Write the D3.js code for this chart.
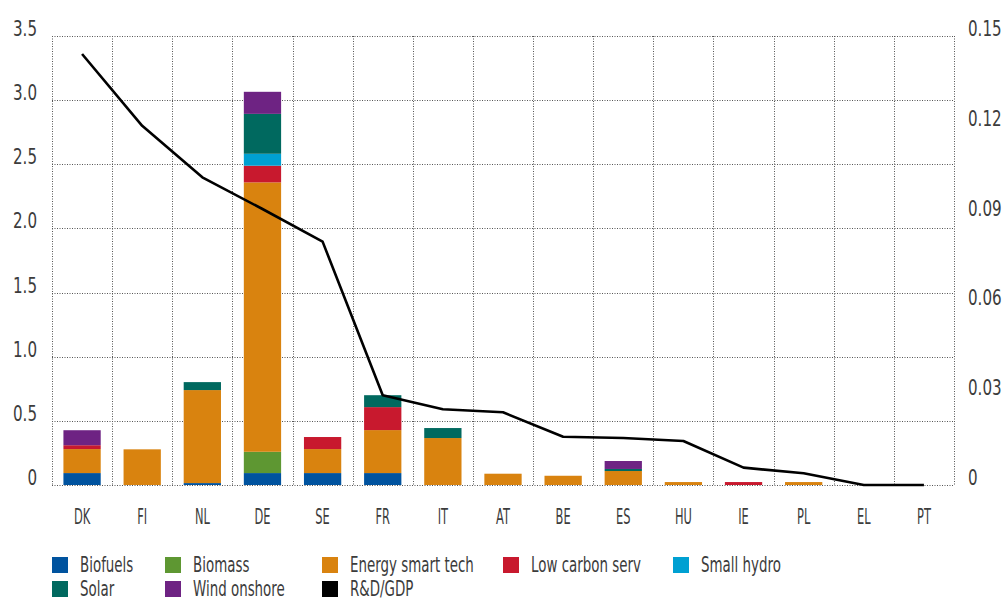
<!DOCTYPE html>
<html>
<head>
<meta charset="utf-8">
<script src="https://cdn.jsdelivr.net/npm/d3@7"></script>
<style>
  body { margin: 0; background: #fff; }
  text { font-family: "Liberation Sans Narrow", "DejaVu Sans Condensed", sans-serif; fill: #3c3c3c; }
</style>
</head>
<body>
<script>
// Chart data
const countries = ["DK", "FI", "NL", "DE", "SE", "FR", "IT", "AT", "BE", "ES", "HU", "IE", "PL", "EL", "PT"];
const biofuels    = [0.093, 0, 0.015, 0.093, 0.093, 0.093, 0, 0, 0, 0, 0, 0, 0, 0, 0];
const biomass     = [0, 0, 0, 0.166, 0, 0, 0, 0, 0, 0, 0, 0, 0, 0, 0];
const energySmart = [0.187, 0.278, 0.725, 2.10, 0.187, 0.335, 0.366, 0.088, 0.072, 0.109, 0.023, 0, 0.023, 0, 0];
const lowCarbon   = [0.03, 0, 0, 0.13, 0.094, 0.179, 0, 0, 0, 0, 0, 0.023, 0, 0, 0];
const smallHydro  = [0, 0, 0, 0.093, 0, 0, 0, 0, 0, 0, 0, 0, 0, 0, 0];
const solar       = [0, 0, 0.062, 0.311, 0, 0.093, 0.078, 0, 0, 0.016, 0, 0, 0, 0, 0];
const windOnshore = [0.117, 0, 0, 0.172, 0, 0, 0, 0, 0, 0.062, 0, 0, 0, 0, 0];
const rdGdp       = [0.144, 0.120, 0.1028, 0.0922, 0.0813, 0.030, 0.0253, 0.0243, 0.0161, 0.0157, 0.0147, 0.0058, 0.0039, 0, 0];

const seriesNames = ["Biofuels", "Biomass", "Energy smart tech", "Low carbon serv", "Small hydro", "Solar", "Wind onshore"];
const seriesValues = [biofuels, biomass, energySmart, lowCarbon, smallHydro, solar, windOnshore];
const seriesColors = ["#00539f", "#5e9732", "#d9830f", "#c8192e", "#00a0d2", "#00695f", "#6e2383"];
const leftTicks = [0, 0.5, 1.0, 1.5, 2.0, 2.5, 3.0, 3.5];
const rightTicks = [0, 0.03, 0.06, 0.09, 0.12, 0.15];

// Dimensions
const width = 1002, height = 602;
const plot = { left: 52, right: 954, top: 36, bottom: 485 };

const svg = d3.select("body").append("svg")
    .attr("width", width)
    .attr("height", height);

// Build table for stacking
const table = countries.map(function(c, i) {
    const row = { country: c };
    seriesNames.forEach(function(s, j) { row[s] = seriesValues[j][i]; });
    return row;
});

const x = d3.scaleBand()
    .domain(countries)
    .range([plot.left, plot.right])
    .paddingInner(0.38)
    .paddingOuter(0.19);

const y = d3.scaleLinear().domain([0, 3.5]).range([plot.bottom, plot.top]);
const y2 = d3.scaleLinear().domain([0, 0.15]).range([plot.bottom, plot.top]);

const step = (plot.right - plot.left) / countries.length;

// Gridlines (dotted)
const grid = svg.append("g").attr("stroke", "#555").attr("stroke-width", 1).attr("stroke-dasharray", "1,1.5");
grid.selectAll("line.h")
    .data(leftTicks)
    .enter().append("line")
    .attr("x1", plot.left).attr("x2", plot.right)
    .attr("y1", d => Math.round(y(d)) + 0.5).attr("y2", d => Math.round(y(d)) + 0.5);
grid.selectAll("line.v")
    .data(d3.range(countries.length + 1))
    .enter().append("line")
    .attr("x1", d => Math.round(plot.left + d * step) + 0.5)
    .attr("x2", d => Math.round(plot.left + d * step) + 0.5)
    .attr("y1", plot.top).attr("y2", plot.bottom);

// helper for squeezed text (imitates the condensed face of the original)
function label(g, txt, tx, ty, anchor, size, sx) {
    return g.append("text")
        .attr("transform", "translate(" + tx + "," + ty + ") scale(" + sx + ",1)")
        .attr("text-anchor", anchor)
        .style("font-size", size + "px")
        .text(txt);
}

// Stacked bars
const stacked = d3.stack().keys(seriesNames)(table);
svg.append("g").selectAll("g")
    .data(stacked)
    .enter().append("g")
    .attr("fill", (d, i) => seriesColors[i])
    .selectAll("rect")
    .data(d => d)
    .enter().append("rect")
    .attr("x", d => x(d.data.country))
    .attr("width", x.bandwidth())
    .attr("y", d => y(d[1]))
    .attr("height", d => y(d[0]) - y(d[1]));

// R&D/GDP line
const line = d3.line()
    .x((d, i) => x(countries[i]) + x.bandwidth() / 2)
    .y(d => y2(d));
svg.append("path")
    .datum(rdGdp)
    .attr("d", line)
    .attr("fill", "none")
    .attr("stroke", "#000")
    .attr("stroke-width", 2.6)
    .attr("stroke-linejoin", "round");

// Axes labels
const axes = svg.append("g");
leftTicks.forEach(function(t) {
    label(axes, t === 0 ? "0" : d3.format(".1f")(t), 37, y(t), "end", 21, 0.8);
});
rightTicks.forEach(function(t) {
    label(axes, t === 0 ? "0" : d3.format(".2f")(t), 968, y2(t), "start", 21, 0.8);
});
countries.forEach(function(c) {
    label(axes, c, x(c) + x.bandwidth() / 2, 524, "middle", 20.5, 0.62);
});

// Legend
const legendItems = seriesNames.concat(["R&D/GDP"]);
const legendColors = seriesColors.concat(["#000"]);
const legendPos = [[52, 557], [165, 557], [322, 557], [503, 557], [673, 557], [52, 581], [165, 581], [322, 581]];
const legend = svg.append("g");
legendItems.forEach(function(name, i) {
    const p = legendPos[i];
    legend.append("rect")
        .attr("x", p[0]).attr("y", p[1])
        .attr("width", 16).attr("height", 16)
        .attr("fill", legendColors[i]);
    label(legend, name, p[0] + 28, p[1] + 15, "start", 21, 0.71);
});
</script>
</body>
</html>
